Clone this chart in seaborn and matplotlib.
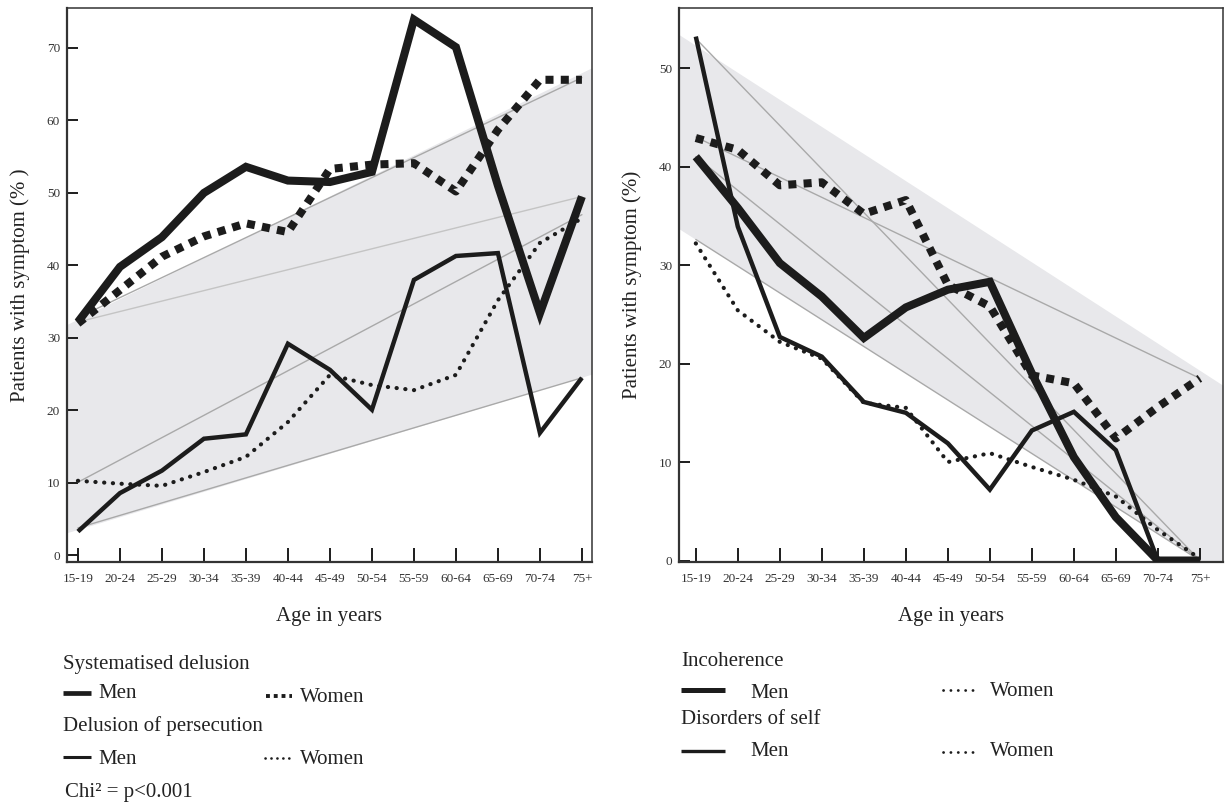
import numpy as np
import pandas as pd
import matplotlib
matplotlib.use("Agg")
import matplotlib.pyplot as plt
from matplotlib.lines import Line2D
import seaborn as sns

# ---------------- data ----------------
ages = ["15-19", "20-24", "25-29", "30-34", "35-39", "40-44", "45-49",
        "50-54", "55-59", "60-64", "65-69", "70-74", "75+"]

# Left panel
sys_men   = [32.2, 39.8, 43.9, 50.0, 53.6, 51.7, 51.5, 52.9, 73.9, 70.1, 51.0, 33.4, 49.5]
sys_women = [32.0, 36.6, 41.2, 44.0, 45.8, 44.6, 53.3, 53.9, 54.1, 50.2, 58.7, 65.6, 65.6]
per_men   = [3.3, 8.6, 11.7, 16.1, 16.7, 29.2, 25.6, 20.1, 38.0, 41.3, 41.7, 16.9, 24.5]
per_women = [10.3, 9.9, 9.6, 11.5, 13.6, 18.4, 24.9, 23.5, 22.8, 24.9, 35.2, 43.1, 46.5]
# grey reference lines (value at 15-19, value at 75+)
left_refs = [(32.8, 65.9), (32.2, 49.5), (10.1, 47.0), (3.8, 24.5)]
left_ref_colors = ["#a9a9a9", "#c4c4c4", "#a9a9a9", "#a9a9a9"]
left_band = {"upper": (32.6, 66.6), "lower": (3.6, 24.6)}

# Right panel
inc_men    = [41.0, 35.8, 30.2, 26.8, 22.6, 25.7, 27.5, 28.3, 19.0, 10.5, 4.4, 0.0, 0.0]
inc_women  = [42.9, 41.7, 38.1, 38.4, 35.2, 36.6, 28.0, 25.8, 18.8, 18.0, 12.4, 15.6, 18.5]
self_men   = [53.2, 33.9, 22.7, 20.7, 16.1, 15.0, 11.9, 7.2, 13.2, 15.1, 11.2, 0.0, 0.0]
self_women = [32.2, 25.4, 22.2, 20.5, 16.0, 15.5, 10.0, 10.9, 9.5, 8.2, 6.5, 3.1, 0.2]
right_refs = [(53.0, 0.0), (43.0, 18.5), (41.0, 0.0), (32.6, 0.0)]
right_ref_colors = ["#a9a9a9", "#a9a9a9", "#a9a9a9", "#a9a9a9"]
right_band = {"upper": (52.3, 19.3), "lower": (32.6, 0.0)}

left_yticks = [0, 10, 20, 30, 40, 50, 60, 70]
right_yticks = [0, 10, 20, 30, 40, 50]

# ---------------- style ----------------
sns.set_theme(style="ticks")
plt.rcParams["font.family"] = ["Liberation Serif", "DejaVu Serif"]

W, H = 1226, 809
fig = plt.figure(figsize=(W / 100, H / 100), dpi=100)
fig.patch.set_facecolor("white")

def frac(x0, y0, x1, y1):
    return [x0 / W, 1 - y1 / H, (x1 - x0) / W, (y1 - y0) / H]

INK = "#1c1c1c"
BAND = "#e8e8eb"
LABEL_FS = 15

thick_solid = dict(color=INK, linewidth=5.8, solid_joinstyle="miter", solid_capstyle="butt")
thick_dot = dict(color=INK, linewidth=5.8, linestyle=(0, (1.0, 0.9)), dash_capstyle="butt")
med_solid = dict(color=INK, linewidth=3.2, solid_joinstyle="miter", solid_capstyle="butt")
thin_dot = dict(color=INK, linewidth=3.0, linestyle=(0, (0.05, 2.05)), dash_capstyle="round")

x = np.arange(len(ages))

def line_vals(pair, xs):
    a, b = pair
    return a + (b - a) * (np.asarray(xs) / (len(ages) - 1))

def draw_panel(ax, series, refs, ref_colors, band, xlim, ylim, yticks, ylabel):
    ax.set_xlim(*xlim)
    ax.set_ylim(*ylim)
    xe = np.array(xlim)
    ax.fill_between(xe, line_vals(band["lower"], xe), line_vals(band["upper"], xe),
                    color=BAND, linewidth=0, zorder=0)
    for (pair, c) in zip(refs, ref_colors):
        ends = np.array([0, len(ages) - 1])
        ax.plot(ends, line_vals(pair, ends), color=c, linewidth=1.0, zorder=1)
    for vals, style in series:
        df = pd.DataFrame({"age": x, "pct": vals})
        sns.lineplot(data=df, x="age", y="pct", ax=ax, zorder=3, **style)
    ax.set_xticks(x)
    ax.set_xticklabels(ages)
    ax.set_yticks(yticks)
    ax.tick_params(axis="x", direction="in", length=10, width=1.4, color=INK,
                   labelsize=9.5, pad=8, labelcolor="#333333")
    ax.tick_params(axis="y", direction="in", length=8, width=1.4, color=INK,
                   labelsize=9.5, pad=5, labelcolor="#333333")
    for s in ax.spines.values():
        s.set_color("#333333")
        s.set_linewidth(1.1)
    ax.spines["bottom"].set_linewidth(1.6)
    ax.spines["left"].set_linewidth(1.6)
    ax.set_xlabel("Age in years", fontsize=LABEL_FS, labelpad=16, color="#222222")
    ax.set_ylabel(ylabel, fontsize=LABEL_FS, labelpad=12, color="#222222")
    ax.set_facecolor("white")

axL = fig.add_axes(frac(67, 8, 592, 562))
draw_panel(axL,
           [(sys_men, thick_solid), (sys_women, thick_dot),
            (per_men, med_solid), (per_women, thin_dot)],
           left_refs, left_ref_colors, left_band,
           (-0.26, 12.24), (-0.9, 75.5), left_yticks,
           "Patients with symptom (% )")

axR = fig.add_axes(frac(679, 8, 1223, 562))
draw_panel(axR,
           [(inc_men, thick_solid), (inc_women, thick_dot),
            (self_men, med_solid), (self_women, thin_dot)],
           right_refs, right_ref_colors, right_band,
           (-0.40, 12.55), (-0.15, 56.1), right_yticks,
           "Patients with symptom (%)")

# ---------------- legends ----------------
def ftext(xp, yp, s, **kw):
    fig.text(xp / W, 1 - yp / H, s, fontsize=LABEL_FS, color="#222222",
             va="center", ha="left", **kw)

def fline(x0, x1, yp, **style):
    fig.add_artist(Line2D([x0 / W, x1 / W], [1 - yp / H, 1 - yp / H],
                          transform=fig.transFigure, **style))

# left legend
ftext(63, 664, "Systematised delusion")
fline(63, 91, 693, color=INK, linewidth=3.4, solid_capstyle="butt")
ftext(98, 694, "Men")
fline(266, 292, 696, color=INK, linewidth=2.8, linestyle=(0, (1, 1.0)), dash_capstyle="butt")
ftext(300, 697, "Women")
ftext(63, 726, "Delusion of persecution")
fline(63, 91, 757, color=INK, linewidth=2.2, solid_capstyle="butt")
ftext(98, 759, "Men")
fline(265, 292, 758, color=INK, linewidth=1.9, linestyle=(0, (0.05, 2.2)), dash_capstyle="round")
ftext(300, 759, "Women")
ftext(65, 792, "Chi² = p<0.001")

# right legend
ftext(681, 661, "Incoherence")
fline(681, 725, 690, color=INK, linewidth=3.6, solid_capstyle="butt")
ftext(750, 693, "Men")
fline(943, 977, 690, color=INK, linewidth=2.0, linestyle=(0, (0.05, 2.6)), dash_capstyle="round")
ftext(990, 692, "Women")
ftext(681, 720, "Disorders of self")
fline(681, 725, 751, color=INK, linewidth=2.4, solid_capstyle="butt")
ftext(750, 752, "Men")
fline(943, 977, 752, color=INK, linewidth=2.0, linestyle=(0, (0.05, 2.6)), dash_capstyle="round")
ftext(990, 752, "Women")

fig.savefig("out.png", dpi=100, facecolor="white")
